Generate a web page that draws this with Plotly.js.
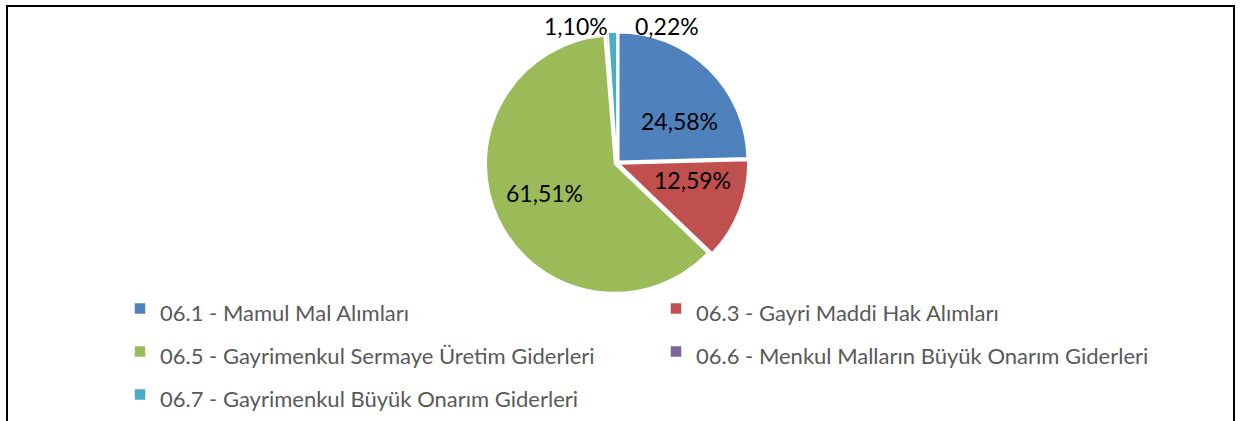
<!DOCTYPE html>
<html><head><meta charset="utf-8">
<script src="https://cdn.plot.ly/plotly-3.0.1.min.js"></script>
<style>html,body{margin:0;padding:0;background:#fff;}#chart{width:1240px;height:421px;}</style>
</head><body><div id="chart"></div>
<script>
const categories = [
  "06.1 - Mamul Mal Alımları",
  "06.3 - Gayri Maddi Hak Alımları",
  "06.5 - Gayrimenkul Sermaye Üretim Giderleri",
  "06.6 - Menkul Malların Büyük Onarım Giderleri",
  "06.7 - Gayrimenkul Büyük Onarım Giderleri"
];
const shares = [24.58, 12.59, 61.51, 0.22, 1.10];
const labelsText = ["24,58%", "12,59%", "61,51%", "0,22%", "1,10%"];
const colors = ["#4F81BD", "#C0504D", "#9BBB59", "#8064A2", "#4BACC6"];

const W = 1240, H = 421;
const cx = 617, cy = 163, R = 131;
// data-label anchor points (pixels), in slice order
const labelPos = [[679, 121], [692, 180], [544, 193], [667, 26], [576, 26]];

const trace = {
  type: "pie",
  labels: categories.map(c => '<span style="font-size:22px">' + c + '</span>'),
  values: shares,
  textinfo: "none",
  sort: false,
  direction: "clockwise",
  rotation: 0,
  pull: [0.02, 0.02, 0.02, 0.02, 0.02],
  marker: { colors: colors, line: { color: "#ffffff", width: 1.5 } },
  automargin: false,
  domain: { x: [(cx - R) / W, (cx + R) / W], y: [1 - (cy + R) / H, 1 - (cy - R) / H] },
  hoverinfo: "label+value"
};

const annotations = labelsText.map((t, i) => ({
  xref: "paper", yref: "paper",
  x: labelPos[i][0] / W, y: 1 - labelPos[i][1] / H,
  xanchor: "center", yanchor: "middle",
  text: t, showarrow: false,
  font: { family: "Lato, sans-serif", size: 23, color: "#000000" }
}));

const layout = {
  width: W, height: H,
  margin: { l: 0, r: 0, t: 0, b: 0, autoexpand: false },
  paper_bgcolor: "#ffffff",
  showlegend: true,
  legend: {
    orientation: "h",
    x: 120 / W, xanchor: "left",
    y: 1 - 282 / H, yanchor: "top",
    bgcolor: "rgba(0,0,0,0)",
    entrywidth: 491, entrywidthmode: "pixels",
    font: { family: "Lato, sans-serif", size: 30.77, color: "#595959" },
    itemwidth: 30,
    traceorder: "normal"
  },
  annotations: annotations,
  shapes: [{
    type: "rect", xref: "paper", yref: "paper",
    x0: 7 / W, x1: 1234 / W, y0: -0.2, y1: 1 - 6 / H,
    line: { color: "#000000", width: 2 }
  }]
};

Plotly.newPlot("chart", [trace], layout, { displayModeBar: false, staticPlot: true });
</script>
</body></html>
